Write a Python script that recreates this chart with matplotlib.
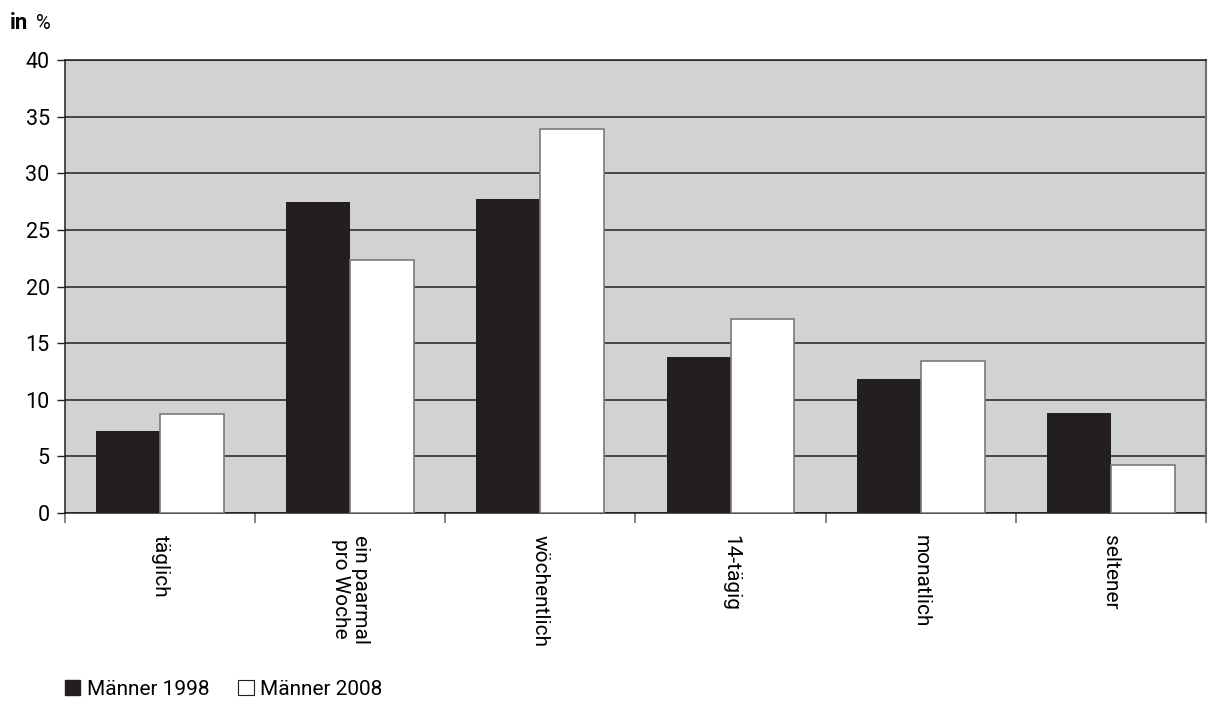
import matplotlib.pyplot as plt
import numpy as np
from matplotlib.patches import Patch

plt.rcParams['font.family'] = ['Roboto', 'DejaVu Sans']

categories = ['täglich', 'ein paarmal\npro Woche', 'wöchentlich', '14-tägig', 'monatlich', 'seltener']
maenner_1998 = [7.2, 27.5, 27.7, 13.8, 11.8, 8.8]
maenner_2008 = [8.7, 22.3, 33.9, 17.1, 13.4, 4.2]
series_names = ['Männer 1998', 'Männer 2008']
yticks = [0, 5, 10, 15, 20, 25, 30, 35, 40]

fig = plt.figure(figsize=(12.08, 7.02), dpi=100)
ax = fig.add_axes([0.0538, 0.2692, 0.9445, 0.6453])
ax.set_facecolor('#d1d2d4')

x = np.arange(len(categories))
w = 0.336
ax.bar(x - w / 2, maenner_1998, w, color='#231f20', edgecolor='#231f20', linewidth=0, zorder=3)
ax.bar(x + w / 2, maenner_2008, w, color='white', edgecolor='#7a7a7a', linewidth=1.2, zorder=3)

ax.set_ylim(0, 40)
ax.set_xlim(-0.5, len(categories) - 0.5)
ax.set_yticks(yticks)
ax.set_yticklabels([str(v) for v in yticks], fontsize=15.5)
ax.yaxis.grid(True, color='#231f20', linewidth=1.1, zorder=1)

# category ticks on the boundaries, labels centered
ax.set_xticks(np.arange(len(categories) + 1) - 0.5)
ax.set_xticklabels([])
ax.tick_params(axis='x', length=7, color='#6d6e70', width=1.2)
ax.tick_params(axis='y', length=6, color='#231f20', width=1, pad=5)
for i, lab in enumerate(categories):
    ax.text(i, -1.9, lab, rotation=-90, ha='center', va='top', fontsize=15,
            linespacing=1.05)

for s in ['left', 'bottom', 'top']:
    ax.spines[s].set_color('#231f20')
    ax.spines[s].set_linewidth(1.1)
ax.spines['right'].set_color('#6d6e70')
ax.spines['right'].set_linewidth(1.5)

fig.text(0.008, 0.967, 'in', fontsize=16, fontweight='bold', va='center')
fig.text(0.030, 0.967, '%', fontsize=14.5, va='center')

handles = [Patch(facecolor='#231f20', edgecolor='#231f20'),
           Patch(facecolor='white', edgecolor='#231f20', linewidth=0.8)]
fig.legend(handles, series_names, loc='center left', bbox_to_anchor=(0.038, 0.018),
           ncol=2, frameon=False, fontsize=15, handlelength=0.75, handleheight=0.75,
           handletextpad=0.3, columnspacing=1.4)

plt.savefig('out.png', dpi=100)
